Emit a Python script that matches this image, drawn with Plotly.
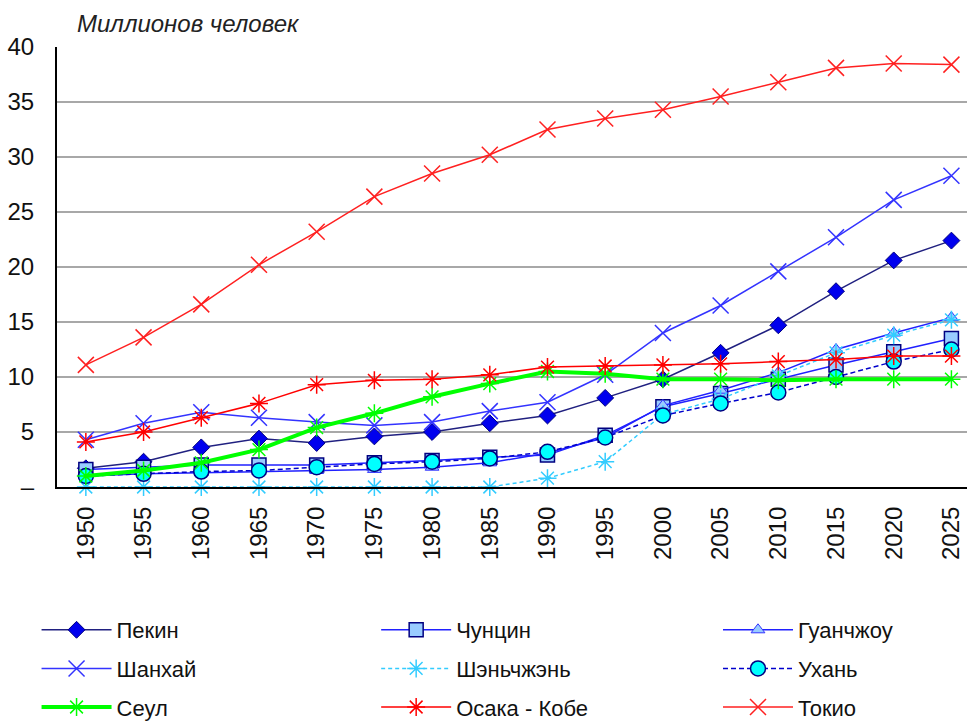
import plotly.graph_objects as go

years = ["1950", "1955", "1960", "1965", "1970", "1975", "1980", "1985",
         "1990", "1995", "2000", "2005", "2010", "2015", "2020", "2025"]

beijing   = [1.7, 2.3, 3.6, 4.4, 4.0, 4.6, 5.0, 5.8, 6.5, 8.1, 9.8, 12.2, 14.7, 17.8, 20.6, 22.4]
chongqing = [1.6, 1.8, 2.0, 2.0, 2.0, 2.2, 2.4, 2.7, 2.9, 4.7, 7.3, 8.5, 9.8, 11.1, 12.3, 13.5]
guangzhou = [1.0, 1.2, 1.3, 1.4, 1.5, 1.6, 1.8, 2.2, 3.1, 4.5, 7.4, 8.8, 10.4, 12.5, 14.0, 15.4]
shanghai  = [4.3, 5.8, 6.8, 6.3, 5.9, 5.6, 5.9, 6.9, 7.7, 10.2, 14.0, 16.5, 19.6, 22.7, 26.1, 28.3]
shenzhen  = [0.0, 0.0, 0.0, 0.0, 0.0, 0.0, 0.0, 0.0, 0.8, 2.3, 6.6, 8.0, 10.1, 12.2, 13.8, 15.2]
wuhan     = [1.0, 1.2, 1.4, 1.5, 1.8, 2.1, 2.3, 2.6, 3.2, 4.5, 6.5, 7.6, 8.6, 10.0, 11.4, 12.5]
seoul     = [1.0, 1.5, 2.2, 3.4, 5.4, 6.7, 8.2, 9.4, 10.5, 10.3, 9.8, 9.8, 9.7, 9.8, 9.8, 9.8]
osaka     = [4.1, 5.0, 6.3, 7.6, 9.3, 9.7, 9.8, 10.2, 10.9, 11.0, 11.1, 11.2, 11.4, 11.6, 11.9, 11.9]
tokyo     = [11.1, 13.6, 16.6, 20.2, 23.2, 26.4, 28.5, 30.2, 32.5, 33.5, 34.3, 35.5, 36.8, 38.1, 38.5, 38.4]

y_tickvals = [0, 5, 10, 15, 20, 25, 30, 35, 40]
y_ticktext = ["–", "5", "10", "15", "20", "25", "30", "35", "40"]

FONT = "Liberation Sans, Arial, sans-serif"

series = [
    # name, data, line color, line width, dash, symbol, size, fill, outline, outline width, legend
    ("Пекин", beijing, "#202080", 1.5, "solid", "diamond", 13, "#0000ee", "#000080", 1, "legend"),
    ("Чунцин", chongqing, "#2020ff", 1.5, "solid", "square", 14, "#99ccff", "#000080", 1.5, "legend2"),
    ("Гуанчжоу", guangzhou, "#2020ff", 1.5, "solid", "triangle-up", 12, "#99ccff", "#3333ff", 1, "legend3"),
    ("Шанхай", shanghai, "#3333ff", 1.5, "solid", "x-thin", 16, "#3333ff", "#3333ff", 1.5, "legend"),
    ("Шэньчжэнь", shenzhen, "#33ccff", 1.5, "4px,3px", "asterisk", 15, "#33ccff", "#33ccff", 1.5, "legend2"),
    ("Ухань", wuhan, "#0000cc", 1.5, "5px,3px", "circle", 15, "#00ffff", "#000080", 1.5, "legend3"),
    ("Сеул", seoul, "#00ff00", 4, "solid", "asterisk", 15, "#00ff00", "#00ff00", 1.5, "legend"),
    ("Осака - Кобе", osaka, "#ff0000", 1.5, "solid", "asterisk", 15, "#ff0000", "#ff0000", 1.5, "legend2"),
    ("Токио", tokyo, "#ff2020", 1.5, "solid", "x-thin", 16, "#ff2020", "#ff2020", 1.5, "legend3"),
]

fig = go.Figure()
for name, data, lc, lw, dash, sym, size, fill, oc, ow, leg in series:
    fig.add_trace(go.Scatter(
        x=years, y=data, name=name, mode="lines+markers",
        line=dict(color=lc, width=lw, dash=dash),
        marker=dict(symbol=sym, size=size, color=fill,
                    line=dict(color=oc, width=ow)),
        legend=leg, legendgroup=name, cliponaxis=False,
    ))

legend_common = dict(
    orientation="v", yanchor="top", xanchor="left",
    xref="container", yref="container",
    font=dict(family=FONT, size=22, color="#111111"),
    bgcolor="rgba(0,0,0,0)", tracegroupgap=7, itemwidth=70,
    itemclick=False, itemdoubleclick=False,
)

fig.update_layout(
    width=967, height=722,
    margin=dict(l=57, r=0, t=47, b=235, autoexpand=False),
    plot_bgcolor="white", paper_bgcolor="white",
    font=dict(family=FONT, size=22, color="#111111"),
    showlegend=True,
    legend=dict(x=0.0378, y=0.1565, **legend_common),
    legend2=dict(x=0.389, y=0.1565, **legend_common),
    legend3=dict(x=0.7425, y=0.1565, **legend_common),
    xaxis=dict(
        type="category", range=[-0.5, 15.27], tickangle=-90,
        showgrid=False, showline=True, linecolor="black", linewidth=2,
        ticks="", ticklabelstandoff=8, automargin=False,
        tickfont=dict(family=FONT, size=24, color="#111111"),
        zeroline=False, fixedrange=True,
    ),
    yaxis=dict(
        range=[0, 40], tickvals=y_tickvals, ticktext=y_ticktext,
        showgrid=True, gridcolor="#a8a8a8", gridwidth=2,
        showline=True, linecolor="black", linewidth=2,
        ticks="", ticklabelstandoff=16, automargin=False,
        tickfont=dict(family=FONT, size=24, color="#111111"),
        zeroline=False, fixedrange=True,
    ),
    annotations=[dict(
        text="<i>Миллионов человек</i>", xref="paper", yref="paper",
        x=0.02, y=1.0, xanchor="left", yanchor="bottom", yshift=8,
        showarrow=False, font=dict(family=FONT, size=24, color="#222222"),
    )],
)

fig.write_html("out.html", config={"displayModeBar": False},
               post_script="document.body.style.margin='0';")
